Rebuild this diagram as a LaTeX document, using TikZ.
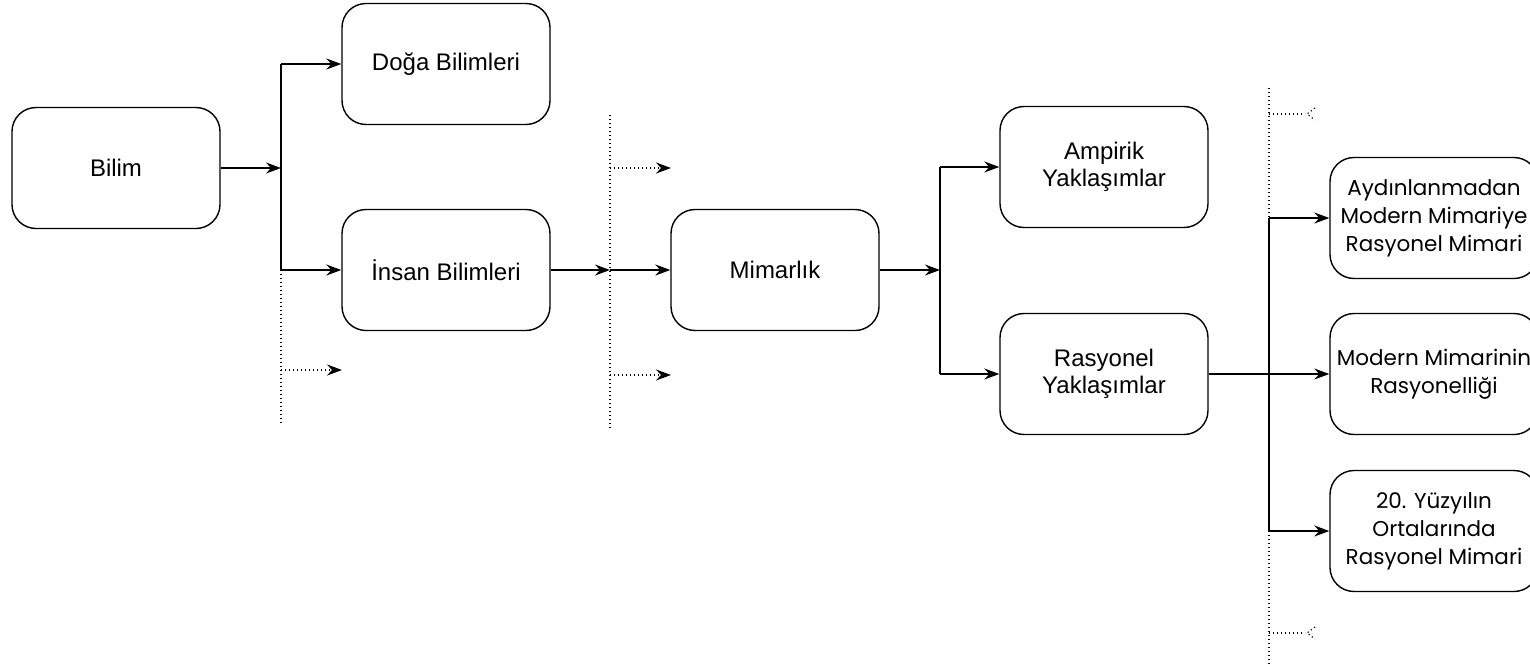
\documentclass[tikz,border=0pt]{standalone}
\usepackage{fontspec}
\setmainfont{Liberation Sans}
\newfontfamily\geofont{Poppins}
\usetikzlibrary{arrows.meta}
\tikzset{
  box/.style={draw, line width=1.4pt, rounded corners=24pt, minimum width=208pt, minimum height=121pt, inner sep=0pt, align=center, font=\fontsize{24}{27}\selectfont},
  gbox/.style={box, font=\geofont\fontsize{21.5}{28}\selectfont},
  conn/.style={line width=1.4pt, -{Stealth[length=15pt,width=11pt,inset=5pt]}},
  plain/.style={line width=1.4pt},
  dots/.style={line width=1.2pt, dash pattern=on 1.2pt off 2.8pt},
  dotarr/.style={dots, -{Stealth[length=15pt,width=11pt,inset=5pt]}},
}
\begin{document}
\begin{tikzpicture}[x=1pt,y=-1pt]
\useasboundingbox (0,0) rectangle (1530,667);
\clip (0,0) rectangle (1530,667);
% nodes
\node[box] (bilim) at (116,168) {Bilim};
\node[box] (doga) at (446,64) {Doğa Bilimleri};
\node[box] (insan) at (446,270) {İnsan Bilimleri};
\node[box] (mim) at (775,270) {Mimarlık};
\node[box] (amp) at (1104,167) {Ampirik\\Yaklaşımlar};
\node[box] (ras) at (1104,374) {Rasyonel\\Yaklaşımlar};
\node[gbox] (r1) at (1434,218) {Aydınlanmadan\\Modern Mimariye\\Rasyonel Mimari};
\node[gbox] (r2) at (1434,374) {Modern Mimarinin\\Rasyonelliği};
\node[gbox] (r3) at (1434,531) {20. Yüzyılın\\Ortalarında\\Rasyonel Mimari};
% junction coordinates
\coordinate (j1) at (281,168);
\coordinate (j1t) at (281,64);
\coordinate (j1b) at (281,270);
\coordinate (j1d) at (281,425);
\coordinate (j1e) at (342,370);
\coordinate (j2) at (610,270);
\coordinate (j2t) at (610,115);
\coordinate (j2b) at (610,430);
\coordinate (j2u) at (671,168);
\coordinate (j2l) at (671,375);
\coordinate (j3) at (940,270);
\coordinate (j3t) at (940,167);
\coordinate (j3b) at (940,374);
\coordinate (j4t) at (1269,218);
\coordinate (j4b) at (1269,531);
\coordinate (j4dt) at (1269,88);
\coordinate (j4db) at (1269,664);
\coordinate (j4u) at (1305,114);
\coordinate (j4l) at (1305,633);
% solid connectors
\draw[conn] (bilim.east) -- (j1);
\draw[plain] (j1t) -- (j1b);
\draw[conn] (j1t) -- (doga.west);
\draw[conn] (j1b) -- (insan.west);
\draw[conn] (insan.east) -- (j2);
\draw[conn] (j2) -- (mim.west);
\draw[conn] (mim.east) -- (j3);
\draw[plain] (j3t) -- (j3b);
\draw[conn] (j3t) -- (amp.west);
\draw[conn] (j3b) -- (ras.west);
\draw[conn] (ras.east) -- (r2.west);
\draw[plain] (j4t) -- (j4b);
\draw[conn] (j4t) -- (r1.west);
\draw[conn] (j4b) -- (r3.west);
% dotted
\draw[dots] (j1b) -- (j1d);
\draw[dotarr] (j1 |- j1e) -- (j1e);
\draw[dots] (j2t) -- (j2b);
\draw[dotarr] (j2 |- j2u) -- (j2u);
\draw[dotarr] (j2 |- j2l) -- (j2l);
\draw[dots] (j4dt) -- (j4t);
\draw[dots] (j4b) -- (j4db);
\draw[dots] (j4t |- j4u) -- (j4u);
\draw[dots] (j4u) ++(10,-6) -- ++(-8,6) -- ++(8,6);
\draw[dots] (j4t |- j4l) -- (j4l);
\draw[dots] (j4l) ++(10,-6) -- ++(-8,6) -- ++(8,6);
\end{tikzpicture}
\end{document}
